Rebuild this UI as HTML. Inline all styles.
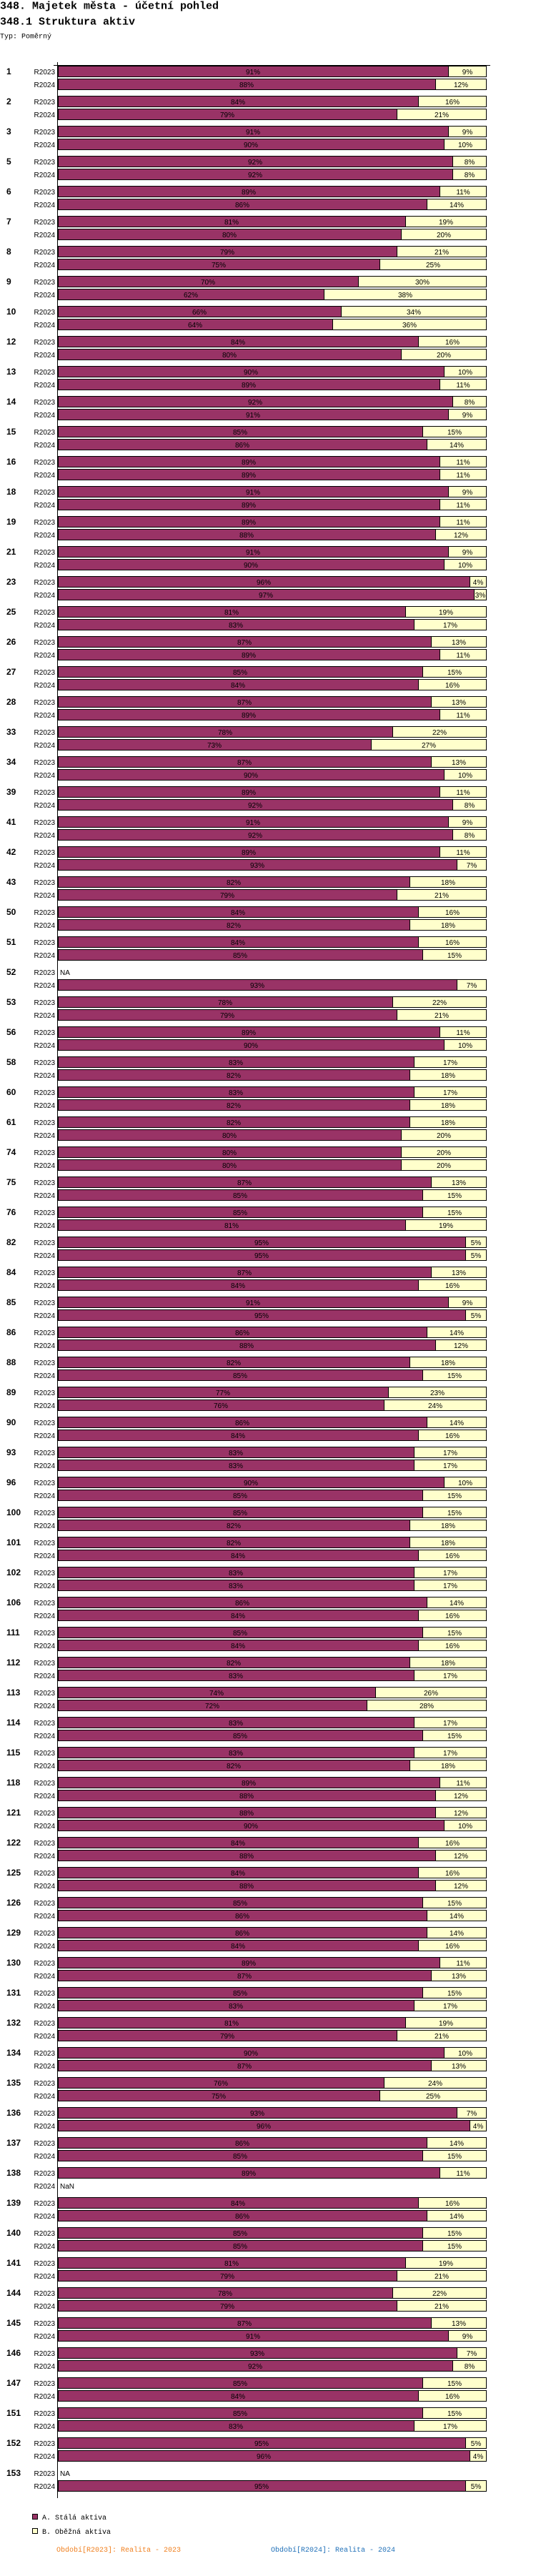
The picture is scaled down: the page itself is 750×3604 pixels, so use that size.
<!DOCTYPE html>
<html><head><meta charset="utf-8"><style>
html,body{margin:0;padding:0;background:#fff;}
svg{display:block;}
.t1{font:bold 15px "Liberation Mono",monospace;fill:#000;}
.t3{font:10px "Liberation Mono",monospace;fill:#000;}
.g{font:bold 12px "Liberation Sans",sans-serif;fill:#000;}
.r{font:10px "Liberation Sans",sans-serif;fill:#000;text-anchor:end;}
.v{font:10px "Liberation Sans",sans-serif;fill:#000;text-anchor:middle;}
.na{font:10px "Liberation Sans",sans-serif;fill:#000;}
.a{fill:#993366;stroke:#000;stroke-width:1;}
.b{fill:#FFFFCC;stroke:#000;stroke-width:1;}
.lg{font:10px "Liberation Mono",monospace;fill:#000;}
.f1{font:10px "Liberation Mono",monospace;fill:#F08020;}
.f2{font:10px "Liberation Mono",monospace;fill:#2070B8;}
</style></head><body>
<svg width="750" height="3604" viewBox="0 0 750 3604" xmlns="http://www.w3.org/2000/svg">
<rect x="0" y="0" width="750" height="3604" fill="#fff"/>
<text class="t1" x="0" y="12.5">348. Majetek města - účetní pohled</text>
<text class="t1" x="0" y="34.5">348.1 Struktura aktiv</text>
<text class="t3" x="0" y="53.5">Typ: Poměrný</text>

<g transform="translate(0,92)"><text class="g" x="9" y="12">1</text><text class="r" x="77" y="12">R2023</text><rect class="a" x="81.5" y=".5" width="546" height="15"/><rect class="b" x="627.5" y=".5" width="53" height="15"/><text class="v" x="354" y="12">91%</text><text class="v" x="654" y="12">9%</text><g transform="translate(0,18)"><text class="r" x="77" y="12">R2024</text><rect class="a" x="81.5" y=".5" width="528" height="15"/><rect class="b" x="609.5" y=".5" width="71" height="15"/><text class="v" x="345" y="12">88%</text><text class="v" x="645" y="12">12%</text></g></g>

<g transform="translate(0,134)"><text class="g" x="9" y="12">2</text><text class="r" x="77" y="12">R2023</text><rect class="a" x="81.5" y=".5" width="504" height="15"/><rect class="b" x="585.5" y=".5" width="95" height="15"/><text class="v" x="333" y="12">84%</text><text class="v" x="633" y="12">16%</text><g transform="translate(0,18)"><text class="r" x="77" y="12">R2024</text><rect class="a" x="81.5" y=".5" width="474" height="15"/><rect class="b" x="555.5" y=".5" width="125" height="15"/><text class="v" x="318" y="12">79%</text><text class="v" x="618" y="12">21%</text></g></g>

<g transform="translate(0,176)"><text class="g" x="9" y="12">3</text><text class="r" x="77" y="12">R2023</text><rect class="a" x="81.5" y=".5" width="546" height="15"/><rect class="b" x="627.5" y=".5" width="53" height="15"/><text class="v" x="354" y="12">91%</text><text class="v" x="654" y="12">9%</text><g transform="translate(0,18)"><text class="r" x="77" y="12">R2024</text><rect class="a" x="81.5" y=".5" width="540" height="15"/><rect class="b" x="621.5" y=".5" width="59" height="15"/><text class="v" x="351" y="12">90%</text><text class="v" x="651" y="12">10%</text></g></g>

<g transform="translate(0,218)"><text class="g" x="9" y="12">5</text><text class="r" x="77" y="12">R2023</text><rect class="a" x="81.5" y=".5" width="552" height="15"/><rect class="b" x="633.5" y=".5" width="47" height="15"/><text class="v" x="357" y="12">92%</text><text class="v" x="657" y="12">8%</text><g transform="translate(0,18)"><text class="r" x="77" y="12">R2024</text><rect class="a" x="81.5" y=".5" width="552" height="15"/><rect class="b" x="633.5" y=".5" width="47" height="15"/><text class="v" x="357" y="12">92%</text><text class="v" x="657" y="12">8%</text></g></g>

<g transform="translate(0,260)"><text class="g" x="9" y="12">6</text><text class="r" x="77" y="12">R2023</text><rect class="a" x="81.5" y=".5" width="534" height="15"/><rect class="b" x="615.5" y=".5" width="65" height="15"/><text class="v" x="348" y="12">89%</text><text class="v" x="648" y="12">11%</text><g transform="translate(0,18)"><text class="r" x="77" y="12">R2024</text><rect class="a" x="81.5" y=".5" width="516" height="15"/><rect class="b" x="597.5" y=".5" width="83" height="15"/><text class="v" x="339" y="12">86%</text><text class="v" x="639" y="12">14%</text></g></g>

<g transform="translate(0,302)"><text class="g" x="9" y="12">7</text><text class="r" x="77" y="12">R2023</text><rect class="a" x="81.5" y=".5" width="486" height="15"/><rect class="b" x="567.5" y=".5" width="113" height="15"/><text class="v" x="324" y="12">81%</text><text class="v" x="624" y="12">19%</text><g transform="translate(0,18)"><text class="r" x="77" y="12">R2024</text><rect class="a" x="81.5" y=".5" width="480" height="15"/><rect class="b" x="561.5" y=".5" width="119" height="15"/><text class="v" x="321" y="12">80%</text><text class="v" x="621" y="12">20%</text></g></g>

<g transform="translate(0,344)"><text class="g" x="9" y="12">8</text><text class="r" x="77" y="12">R2023</text><rect class="a" x="81.5" y=".5" width="474" height="15"/><rect class="b" x="555.5" y=".5" width="125" height="15"/><text class="v" x="318" y="12">79%</text><text class="v" x="618" y="12">21%</text><g transform="translate(0,18)"><text class="r" x="77" y="12">R2024</text><rect class="a" x="81.5" y=".5" width="450" height="15"/><rect class="b" x="531.5" y=".5" width="149" height="15"/><text class="v" x="306" y="12">75%</text><text class="v" x="606" y="12">25%</text></g></g>

<g transform="translate(0,386)"><text class="g" x="9" y="12">9</text><text class="r" x="77" y="12">R2023</text><rect class="a" x="81.5" y=".5" width="420" height="15"/><rect class="b" x="501.5" y=".5" width="179" height="15"/><text class="v" x="291" y="12">70%</text><text class="v" x="591" y="12">30%</text><g transform="translate(0,18)"><text class="r" x="77" y="12">R2024</text><rect class="a" x="81.5" y=".5" width="372" height="15"/><rect class="b" x="453.5" y=".5" width="227" height="15"/><text class="v" x="267" y="12">62%</text><text class="v" x="567" y="12">38%</text></g></g>

<g transform="translate(0,428)"><text class="g" x="9" y="12">10</text><text class="r" x="77" y="12">R2023</text><rect class="a" x="81.5" y=".5" width="396" height="15"/><rect class="b" x="477.5" y=".5" width="203" height="15"/><text class="v" x="279" y="12">66%</text><text class="v" x="579" y="12">34%</text><g transform="translate(0,18)"><text class="r" x="77" y="12">R2024</text><rect class="a" x="81.5" y=".5" width="384" height="15"/><rect class="b" x="465.5" y=".5" width="215" height="15"/><text class="v" x="273" y="12">64%</text><text class="v" x="573" y="12">36%</text></g></g>

<g transform="translate(0,470)"><text class="g" x="9" y="12">12</text><text class="r" x="77" y="12">R2023</text><rect class="a" x="81.5" y=".5" width="504" height="15"/><rect class="b" x="585.5" y=".5" width="95" height="15"/><text class="v" x="333" y="12">84%</text><text class="v" x="633" y="12">16%</text><g transform="translate(0,18)"><text class="r" x="77" y="12">R2024</text><rect class="a" x="81.5" y=".5" width="480" height="15"/><rect class="b" x="561.5" y=".5" width="119" height="15"/><text class="v" x="321" y="12">80%</text><text class="v" x="621" y="12">20%</text></g></g>

<g transform="translate(0,512)"><text class="g" x="9" y="12">13</text><text class="r" x="77" y="12">R2023</text><rect class="a" x="81.5" y=".5" width="540" height="15"/><rect class="b" x="621.5" y=".5" width="59" height="15"/><text class="v" x="351" y="12">90%</text><text class="v" x="651" y="12">10%</text><g transform="translate(0,18)"><text class="r" x="77" y="12">R2024</text><rect class="a" x="81.5" y=".5" width="534" height="15"/><rect class="b" x="615.5" y=".5" width="65" height="15"/><text class="v" x="348" y="12">89%</text><text class="v" x="648" y="12">11%</text></g></g>

<g transform="translate(0,554)"><text class="g" x="9" y="12">14</text><text class="r" x="77" y="12">R2023</text><rect class="a" x="81.5" y=".5" width="552" height="15"/><rect class="b" x="633.5" y=".5" width="47" height="15"/><text class="v" x="357" y="12">92%</text><text class="v" x="657" y="12">8%</text><g transform="translate(0,18)"><text class="r" x="77" y="12">R2024</text><rect class="a" x="81.5" y=".5" width="546" height="15"/><rect class="b" x="627.5" y=".5" width="53" height="15"/><text class="v" x="354" y="12">91%</text><text class="v" x="654" y="12">9%</text></g></g>

<g transform="translate(0,596)"><text class="g" x="9" y="12">15</text><text class="r" x="77" y="12">R2023</text><rect class="a" x="81.5" y=".5" width="510" height="15"/><rect class="b" x="591.5" y=".5" width="89" height="15"/><text class="v" x="336" y="12">85%</text><text class="v" x="636" y="12">15%</text><g transform="translate(0,18)"><text class="r" x="77" y="12">R2024</text><rect class="a" x="81.5" y=".5" width="516" height="15"/><rect class="b" x="597.5" y=".5" width="83" height="15"/><text class="v" x="339" y="12">86%</text><text class="v" x="639" y="12">14%</text></g></g>

<g transform="translate(0,638)"><text class="g" x="9" y="12">16</text><text class="r" x="77" y="12">R2023</text><rect class="a" x="81.5" y=".5" width="534" height="15"/><rect class="b" x="615.5" y=".5" width="65" height="15"/><text class="v" x="348" y="12">89%</text><text class="v" x="648" y="12">11%</text><g transform="translate(0,18)"><text class="r" x="77" y="12">R2024</text><rect class="a" x="81.5" y=".5" width="534" height="15"/><rect class="b" x="615.5" y=".5" width="65" height="15"/><text class="v" x="348" y="12">89%</text><text class="v" x="648" y="12">11%</text></g></g>

<g transform="translate(0,680)"><text class="g" x="9" y="12">18</text><text class="r" x="77" y="12">R2023</text><rect class="a" x="81.5" y=".5" width="546" height="15"/><rect class="b" x="627.5" y=".5" width="53" height="15"/><text class="v" x="354" y="12">91%</text><text class="v" x="654" y="12">9%</text><g transform="translate(0,18)"><text class="r" x="77" y="12">R2024</text><rect class="a" x="81.5" y=".5" width="534" height="15"/><rect class="b" x="615.5" y=".5" width="65" height="15"/><text class="v" x="348" y="12">89%</text><text class="v" x="648" y="12">11%</text></g></g>

<g transform="translate(0,722)"><text class="g" x="9" y="12">19</text><text class="r" x="77" y="12">R2023</text><rect class="a" x="81.5" y=".5" width="534" height="15"/><rect class="b" x="615.5" y=".5" width="65" height="15"/><text class="v" x="348" y="12">89%</text><text class="v" x="648" y="12">11%</text><g transform="translate(0,18)"><text class="r" x="77" y="12">R2024</text><rect class="a" x="81.5" y=".5" width="528" height="15"/><rect class="b" x="609.5" y=".5" width="71" height="15"/><text class="v" x="345" y="12">88%</text><text class="v" x="645" y="12">12%</text></g></g>

<g transform="translate(0,764)"><text class="g" x="9" y="12">21</text><text class="r" x="77" y="12">R2023</text><rect class="a" x="81.5" y=".5" width="546" height="15"/><rect class="b" x="627.5" y=".5" width="53" height="15"/><text class="v" x="354" y="12">91%</text><text class="v" x="654" y="12">9%</text><g transform="translate(0,18)"><text class="r" x="77" y="12">R2024</text><rect class="a" x="81.5" y=".5" width="540" height="15"/><rect class="b" x="621.5" y=".5" width="59" height="15"/><text class="v" x="351" y="12">90%</text><text class="v" x="651" y="12">10%</text></g></g>

<g transform="translate(0,806)"><text class="g" x="9" y="12">23</text><text class="r" x="77" y="12">R2023</text><rect class="a" x="81.5" y=".5" width="576" height="15"/><rect class="b" x="657.5" y=".5" width="23" height="15"/><text class="v" x="369" y="12">96%</text><text class="v" x="669" y="12">4%</text><g transform="translate(0,18)"><text class="r" x="77" y="12">R2024</text><rect class="a" x="81.5" y=".5" width="582" height="15"/><rect class="b" x="663.5" y=".5" width="17" height="15"/><text class="v" x="372" y="12">97%</text><text class="v" x="672" y="12">3%</text></g></g>

<g transform="translate(0,848)"><text class="g" x="9" y="12">25</text><text class="r" x="77" y="12">R2023</text><rect class="a" x="81.5" y=".5" width="486" height="15"/><rect class="b" x="567.5" y=".5" width="113" height="15"/><text class="v" x="324" y="12">81%</text><text class="v" x="624" y="12">19%</text><g transform="translate(0,18)"><text class="r" x="77" y="12">R2024</text><rect class="a" x="81.5" y=".5" width="498" height="15"/><rect class="b" x="579.5" y=".5" width="101" height="15"/><text class="v" x="330" y="12">83%</text><text class="v" x="630" y="12">17%</text></g></g>

<g transform="translate(0,890)"><text class="g" x="9" y="12">26</text><text class="r" x="77" y="12">R2023</text><rect class="a" x="81.5" y=".5" width="522" height="15"/><rect class="b" x="603.5" y=".5" width="77" height="15"/><text class="v" x="342" y="12">87%</text><text class="v" x="642" y="12">13%</text><g transform="translate(0,18)"><text class="r" x="77" y="12">R2024</text><rect class="a" x="81.5" y=".5" width="534" height="15"/><rect class="b" x="615.5" y=".5" width="65" height="15"/><text class="v" x="348" y="12">89%</text><text class="v" x="648" y="12">11%</text></g></g>

<g transform="translate(0,932)"><text class="g" x="9" y="12">27</text><text class="r" x="77" y="12">R2023</text><rect class="a" x="81.5" y=".5" width="510" height="15"/><rect class="b" x="591.5" y=".5" width="89" height="15"/><text class="v" x="336" y="12">85%</text><text class="v" x="636" y="12">15%</text><g transform="translate(0,18)"><text class="r" x="77" y="12">R2024</text><rect class="a" x="81.5" y=".5" width="504" height="15"/><rect class="b" x="585.5" y=".5" width="95" height="15"/><text class="v" x="333" y="12">84%</text><text class="v" x="633" y="12">16%</text></g></g>

<g transform="translate(0,974)"><text class="g" x="9" y="12">28</text><text class="r" x="77" y="12">R2023</text><rect class="a" x="81.5" y=".5" width="522" height="15"/><rect class="b" x="603.5" y=".5" width="77" height="15"/><text class="v" x="342" y="12">87%</text><text class="v" x="642" y="12">13%</text><g transform="translate(0,18)"><text class="r" x="77" y="12">R2024</text><rect class="a" x="81.5" y=".5" width="534" height="15"/><rect class="b" x="615.5" y=".5" width="65" height="15"/><text class="v" x="348" y="12">89%</text><text class="v" x="648" y="12">11%</text></g></g>

<g transform="translate(0,1016)"><text class="g" x="9" y="12">33</text><text class="r" x="77" y="12">R2023</text><rect class="a" x="81.5" y=".5" width="468" height="15"/><rect class="b" x="549.5" y=".5" width="131" height="15"/><text class="v" x="315" y="12">78%</text><text class="v" x="615" y="12">22%</text><g transform="translate(0,18)"><text class="r" x="77" y="12">R2024</text><rect class="a" x="81.5" y=".5" width="438" height="15"/><rect class="b" x="519.5" y=".5" width="161" height="15"/><text class="v" x="300" y="12">73%</text><text class="v" x="600" y="12">27%</text></g></g>

<g transform="translate(0,1058)"><text class="g" x="9" y="12">34</text><text class="r" x="77" y="12">R2023</text><rect class="a" x="81.5" y=".5" width="522" height="15"/><rect class="b" x="603.5" y=".5" width="77" height="15"/><text class="v" x="342" y="12">87%</text><text class="v" x="642" y="12">13%</text><g transform="translate(0,18)"><text class="r" x="77" y="12">R2024</text><rect class="a" x="81.5" y=".5" width="540" height="15"/><rect class="b" x="621.5" y=".5" width="59" height="15"/><text class="v" x="351" y="12">90%</text><text class="v" x="651" y="12">10%</text></g></g>

<g transform="translate(0,1100)"><text class="g" x="9" y="12">39</text><text class="r" x="77" y="12">R2023</text><rect class="a" x="81.5" y=".5" width="534" height="15"/><rect class="b" x="615.5" y=".5" width="65" height="15"/><text class="v" x="348" y="12">89%</text><text class="v" x="648" y="12">11%</text><g transform="translate(0,18)"><text class="r" x="77" y="12">R2024</text><rect class="a" x="81.5" y=".5" width="552" height="15"/><rect class="b" x="633.5" y=".5" width="47" height="15"/><text class="v" x="357" y="12">92%</text><text class="v" x="657" y="12">8%</text></g></g>

<g transform="translate(0,1142)"><text class="g" x="9" y="12">41</text><text class="r" x="77" y="12">R2023</text><rect class="a" x="81.5" y=".5" width="546" height="15"/><rect class="b" x="627.5" y=".5" width="53" height="15"/><text class="v" x="354" y="12">91%</text><text class="v" x="654" y="12">9%</text><g transform="translate(0,18)"><text class="r" x="77" y="12">R2024</text><rect class="a" x="81.5" y=".5" width="552" height="15"/><rect class="b" x="633.5" y=".5" width="47" height="15"/><text class="v" x="357" y="12">92%</text><text class="v" x="657" y="12">8%</text></g></g>

<g transform="translate(0,1184)"><text class="g" x="9" y="12">42</text><text class="r" x="77" y="12">R2023</text><rect class="a" x="81.5" y=".5" width="534" height="15"/><rect class="b" x="615.5" y=".5" width="65" height="15"/><text class="v" x="348" y="12">89%</text><text class="v" x="648" y="12">11%</text><g transform="translate(0,18)"><text class="r" x="77" y="12">R2024</text><rect class="a" x="81.5" y=".5" width="558" height="15"/><rect class="b" x="639.5" y=".5" width="41" height="15"/><text class="v" x="360" y="12">93%</text><text class="v" x="660" y="12">7%</text></g></g>

<g transform="translate(0,1226)"><text class="g" x="9" y="12">43</text><text class="r" x="77" y="12">R2023</text><rect class="a" x="81.5" y=".5" width="492" height="15"/><rect class="b" x="573.5" y=".5" width="107" height="15"/><text class="v" x="327" y="12">82%</text><text class="v" x="627" y="12">18%</text><g transform="translate(0,18)"><text class="r" x="77" y="12">R2024</text><rect class="a" x="81.5" y=".5" width="474" height="15"/><rect class="b" x="555.5" y=".5" width="125" height="15"/><text class="v" x="318" y="12">79%</text><text class="v" x="618" y="12">21%</text></g></g>

<g transform="translate(0,1268)"><text class="g" x="9" y="12">50</text><text class="r" x="77" y="12">R2023</text><rect class="a" x="81.5" y=".5" width="504" height="15"/><rect class="b" x="585.5" y=".5" width="95" height="15"/><text class="v" x="333" y="12">84%</text><text class="v" x="633" y="12">16%</text><g transform="translate(0,18)"><text class="r" x="77" y="12">R2024</text><rect class="a" x="81.5" y=".5" width="492" height="15"/><rect class="b" x="573.5" y=".5" width="107" height="15"/><text class="v" x="327" y="12">82%</text><text class="v" x="627" y="12">18%</text></g></g>

<g transform="translate(0,1310)"><text class="g" x="9" y="12">51</text><text class="r" x="77" y="12">R2023</text><rect class="a" x="81.5" y=".5" width="504" height="15"/><rect class="b" x="585.5" y=".5" width="95" height="15"/><text class="v" x="333" y="12">84%</text><text class="v" x="633" y="12">16%</text><g transform="translate(0,18)"><text class="r" x="77" y="12">R2024</text><rect class="a" x="81.5" y=".5" width="510" height="15"/><rect class="b" x="591.5" y=".5" width="89" height="15"/><text class="v" x="336" y="12">85%</text><text class="v" x="636" y="12">15%</text></g></g>

<g transform="translate(0,1352)"><text class="g" x="9" y="12">52</text><text class="r" x="77" y="12">R2023</text><text class="na" x="84" y="12">NA</text><g transform="translate(0,18)"><text class="r" x="77" y="12">R2024</text><rect class="a" x="81.5" y=".5" width="558" height="15"/><rect class="b" x="639.5" y=".5" width="41" height="15"/><text class="v" x="360" y="12">93%</text><text class="v" x="660" y="12">7%</text></g></g>

<g transform="translate(0,1394)"><text class="g" x="9" y="12">53</text><text class="r" x="77" y="12">R2023</text><rect class="a" x="81.5" y=".5" width="468" height="15"/><rect class="b" x="549.5" y=".5" width="131" height="15"/><text class="v" x="315" y="12">78%</text><text class="v" x="615" y="12">22%</text><g transform="translate(0,18)"><text class="r" x="77" y="12">R2024</text><rect class="a" x="81.5" y=".5" width="474" height="15"/><rect class="b" x="555.5" y=".5" width="125" height="15"/><text class="v" x="318" y="12">79%</text><text class="v" x="618" y="12">21%</text></g></g>

<g transform="translate(0,1436)"><text class="g" x="9" y="12">56</text><text class="r" x="77" y="12">R2023</text><rect class="a" x="81.5" y=".5" width="534" height="15"/><rect class="b" x="615.5" y=".5" width="65" height="15"/><text class="v" x="348" y="12">89%</text><text class="v" x="648" y="12">11%</text><g transform="translate(0,18)"><text class="r" x="77" y="12">R2024</text><rect class="a" x="81.5" y=".5" width="540" height="15"/><rect class="b" x="621.5" y=".5" width="59" height="15"/><text class="v" x="351" y="12">90%</text><text class="v" x="651" y="12">10%</text></g></g>

<g transform="translate(0,1478)"><text class="g" x="9" y="12">58</text><text class="r" x="77" y="12">R2023</text><rect class="a" x="81.5" y=".5" width="498" height="15"/><rect class="b" x="579.5" y=".5" width="101" height="15"/><text class="v" x="330" y="12">83%</text><text class="v" x="630" y="12">17%</text><g transform="translate(0,18)"><text class="r" x="77" y="12">R2024</text><rect class="a" x="81.5" y=".5" width="492" height="15"/><rect class="b" x="573.5" y=".5" width="107" height="15"/><text class="v" x="327" y="12">82%</text><text class="v" x="627" y="12">18%</text></g></g>

<g transform="translate(0,1520)"><text class="g" x="9" y="12">60</text><text class="r" x="77" y="12">R2023</text><rect class="a" x="81.5" y=".5" width="498" height="15"/><rect class="b" x="579.5" y=".5" width="101" height="15"/><text class="v" x="330" y="12">83%</text><text class="v" x="630" y="12">17%</text><g transform="translate(0,18)"><text class="r" x="77" y="12">R2024</text><rect class="a" x="81.5" y=".5" width="492" height="15"/><rect class="b" x="573.5" y=".5" width="107" height="15"/><text class="v" x="327" y="12">82%</text><text class="v" x="627" y="12">18%</text></g></g>

<g transform="translate(0,1562)"><text class="g" x="9" y="12">61</text><text class="r" x="77" y="12">R2023</text><rect class="a" x="81.5" y=".5" width="492" height="15"/><rect class="b" x="573.5" y=".5" width="107" height="15"/><text class="v" x="327" y="12">82%</text><text class="v" x="627" y="12">18%</text><g transform="translate(0,18)"><text class="r" x="77" y="12">R2024</text><rect class="a" x="81.5" y=".5" width="480" height="15"/><rect class="b" x="561.5" y=".5" width="119" height="15"/><text class="v" x="321" y="12">80%</text><text class="v" x="621" y="12">20%</text></g></g>

<g transform="translate(0,1604)"><text class="g" x="9" y="12">74</text><text class="r" x="77" y="12">R2023</text><rect class="a" x="81.5" y=".5" width="480" height="15"/><rect class="b" x="561.5" y=".5" width="119" height="15"/><text class="v" x="321" y="12">80%</text><text class="v" x="621" y="12">20%</text><g transform="translate(0,18)"><text class="r" x="77" y="12">R2024</text><rect class="a" x="81.5" y=".5" width="480" height="15"/><rect class="b" x="561.5" y=".5" width="119" height="15"/><text class="v" x="321" y="12">80%</text><text class="v" x="621" y="12">20%</text></g></g>

<g transform="translate(0,1646)"><text class="g" x="9" y="12">75</text><text class="r" x="77" y="12">R2023</text><rect class="a" x="81.5" y=".5" width="522" height="15"/><rect class="b" x="603.5" y=".5" width="77" height="15"/><text class="v" x="342" y="12">87%</text><text class="v" x="642" y="12">13%</text><g transform="translate(0,18)"><text class="r" x="77" y="12">R2024</text><rect class="a" x="81.5" y=".5" width="510" height="15"/><rect class="b" x="591.5" y=".5" width="89" height="15"/><text class="v" x="336" y="12">85%</text><text class="v" x="636" y="12">15%</text></g></g>

<g transform="translate(0,1688)"><text class="g" x="9" y="12">76</text><text class="r" x="77" y="12">R2023</text><rect class="a" x="81.5" y=".5" width="510" height="15"/><rect class="b" x="591.5" y=".5" width="89" height="15"/><text class="v" x="336" y="12">85%</text><text class="v" x="636" y="12">15%</text><g transform="translate(0,18)"><text class="r" x="77" y="12">R2024</text><rect class="a" x="81.5" y=".5" width="486" height="15"/><rect class="b" x="567.5" y=".5" width="113" height="15"/><text class="v" x="324" y="12">81%</text><text class="v" x="624" y="12">19%</text></g></g>

<g transform="translate(0,1730)"><text class="g" x="9" y="12">82</text><text class="r" x="77" y="12">R2023</text><rect class="a" x="81.5" y=".5" width="570" height="15"/><rect class="b" x="651.5" y=".5" width="29" height="15"/><text class="v" x="366" y="12">95%</text><text class="v" x="666" y="12">5%</text><g transform="translate(0,18)"><text class="r" x="77" y="12">R2024</text><rect class="a" x="81.5" y=".5" width="570" height="15"/><rect class="b" x="651.5" y=".5" width="29" height="15"/><text class="v" x="366" y="12">95%</text><text class="v" x="666" y="12">5%</text></g></g>

<g transform="translate(0,1772)"><text class="g" x="9" y="12">84</text><text class="r" x="77" y="12">R2023</text><rect class="a" x="81.5" y=".5" width="522" height="15"/><rect class="b" x="603.5" y=".5" width="77" height="15"/><text class="v" x="342" y="12">87%</text><text class="v" x="642" y="12">13%</text><g transform="translate(0,18)"><text class="r" x="77" y="12">R2024</text><rect class="a" x="81.5" y=".5" width="504" height="15"/><rect class="b" x="585.5" y=".5" width="95" height="15"/><text class="v" x="333" y="12">84%</text><text class="v" x="633" y="12">16%</text></g></g>

<g transform="translate(0,1814)"><text class="g" x="9" y="12">85</text><text class="r" x="77" y="12">R2023</text><rect class="a" x="81.5" y=".5" width="546" height="15"/><rect class="b" x="627.5" y=".5" width="53" height="15"/><text class="v" x="354" y="12">91%</text><text class="v" x="654" y="12">9%</text><g transform="translate(0,18)"><text class="r" x="77" y="12">R2024</text><rect class="a" x="81.5" y=".5" width="570" height="15"/><rect class="b" x="651.5" y=".5" width="29" height="15"/><text class="v" x="366" y="12">95%</text><text class="v" x="666" y="12">5%</text></g></g>

<g transform="translate(0,1856)"><text class="g" x="9" y="12">86</text><text class="r" x="77" y="12">R2023</text><rect class="a" x="81.5" y=".5" width="516" height="15"/><rect class="b" x="597.5" y=".5" width="83" height="15"/><text class="v" x="339" y="12">86%</text><text class="v" x="639" y="12">14%</text><g transform="translate(0,18)"><text class="r" x="77" y="12">R2024</text><rect class="a" x="81.5" y=".5" width="528" height="15"/><rect class="b" x="609.5" y=".5" width="71" height="15"/><text class="v" x="345" y="12">88%</text><text class="v" x="645" y="12">12%</text></g></g>

<g transform="translate(0,1898)"><text class="g" x="9" y="12">88</text><text class="r" x="77" y="12">R2023</text><rect class="a" x="81.5" y=".5" width="492" height="15"/><rect class="b" x="573.5" y=".5" width="107" height="15"/><text class="v" x="327" y="12">82%</text><text class="v" x="627" y="12">18%</text><g transform="translate(0,18)"><text class="r" x="77" y="12">R2024</text><rect class="a" x="81.5" y=".5" width="510" height="15"/><rect class="b" x="591.5" y=".5" width="89" height="15"/><text class="v" x="336" y="12">85%</text><text class="v" x="636" y="12">15%</text></g></g>

<g transform="translate(0,1940)"><text class="g" x="9" y="12">89</text><text class="r" x="77" y="12">R2023</text><rect class="a" x="81.5" y=".5" width="462" height="15"/><rect class="b" x="543.5" y=".5" width="137" height="15"/><text class="v" x="312" y="12">77%</text><text class="v" x="612" y="12">23%</text><g transform="translate(0,18)"><text class="r" x="77" y="12">R2024</text><rect class="a" x="81.5" y=".5" width="456" height="15"/><rect class="b" x="537.5" y=".5" width="143" height="15"/><text class="v" x="309" y="12">76%</text><text class="v" x="609" y="12">24%</text></g></g>

<g transform="translate(0,1982)"><text class="g" x="9" y="12">90</text><text class="r" x="77" y="12">R2023</text><rect class="a" x="81.5" y=".5" width="516" height="15"/><rect class="b" x="597.5" y=".5" width="83" height="15"/><text class="v" x="339" y="12">86%</text><text class="v" x="639" y="12">14%</text><g transform="translate(0,18)"><text class="r" x="77" y="12">R2024</text><rect class="a" x="81.5" y=".5" width="504" height="15"/><rect class="b" x="585.5" y=".5" width="95" height="15"/><text class="v" x="333" y="12">84%</text><text class="v" x="633" y="12">16%</text></g></g>

<g transform="translate(0,2024)"><text class="g" x="9" y="12">93</text><text class="r" x="77" y="12">R2023</text><rect class="a" x="81.5" y=".5" width="498" height="15"/><rect class="b" x="579.5" y=".5" width="101" height="15"/><text class="v" x="330" y="12">83%</text><text class="v" x="630" y="12">17%</text><g transform="translate(0,18)"><text class="r" x="77" y="12">R2024</text><rect class="a" x="81.5" y=".5" width="498" height="15"/><rect class="b" x="579.5" y=".5" width="101" height="15"/><text class="v" x="330" y="12">83%</text><text class="v" x="630" y="12">17%</text></g></g>

<g transform="translate(0,2066)"><text class="g" x="9" y="12">96</text><text class="r" x="77" y="12">R2023</text><rect class="a" x="81.5" y=".5" width="540" height="15"/><rect class="b" x="621.5" y=".5" width="59" height="15"/><text class="v" x="351" y="12">90%</text><text class="v" x="651" y="12">10%</text><g transform="translate(0,18)"><text class="r" x="77" y="12">R2024</text><rect class="a" x="81.5" y=".5" width="510" height="15"/><rect class="b" x="591.5" y=".5" width="89" height="15"/><text class="v" x="336" y="12">85%</text><text class="v" x="636" y="12">15%</text></g></g>

<g transform="translate(0,2108)"><text class="g" x="9" y="12">100</text><text class="r" x="77" y="12">R2023</text><rect class="a" x="81.5" y=".5" width="510" height="15"/><rect class="b" x="591.5" y=".5" width="89" height="15"/><text class="v" x="336" y="12">85%</text><text class="v" x="636" y="12">15%</text><g transform="translate(0,18)"><text class="r" x="77" y="12">R2024</text><rect class="a" x="81.5" y=".5" width="492" height="15"/><rect class="b" x="573.5" y=".5" width="107" height="15"/><text class="v" x="327" y="12">82%</text><text class="v" x="627" y="12">18%</text></g></g>

<g transform="translate(0,2150)"><text class="g" x="9" y="12">101</text><text class="r" x="77" y="12">R2023</text><rect class="a" x="81.5" y=".5" width="492" height="15"/><rect class="b" x="573.5" y=".5" width="107" height="15"/><text class="v" x="327" y="12">82%</text><text class="v" x="627" y="12">18%</text><g transform="translate(0,18)"><text class="r" x="77" y="12">R2024</text><rect class="a" x="81.5" y=".5" width="504" height="15"/><rect class="b" x="585.5" y=".5" width="95" height="15"/><text class="v" x="333" y="12">84%</text><text class="v" x="633" y="12">16%</text></g></g>

<g transform="translate(0,2192)"><text class="g" x="9" y="12">102</text><text class="r" x="77" y="12">R2023</text><rect class="a" x="81.5" y=".5" width="498" height="15"/><rect class="b" x="579.5" y=".5" width="101" height="15"/><text class="v" x="330" y="12">83%</text><text class="v" x="630" y="12">17%</text><g transform="translate(0,18)"><text class="r" x="77" y="12">R2024</text><rect class="a" x="81.5" y=".5" width="498" height="15"/><rect class="b" x="579.5" y=".5" width="101" height="15"/><text class="v" x="330" y="12">83%</text><text class="v" x="630" y="12">17%</text></g></g>

<g transform="translate(0,2234)"><text class="g" x="9" y="12">106</text><text class="r" x="77" y="12">R2023</text><rect class="a" x="81.5" y=".5" width="516" height="15"/><rect class="b" x="597.5" y=".5" width="83" height="15"/><text class="v" x="339" y="12">86%</text><text class="v" x="639" y="12">14%</text><g transform="translate(0,18)"><text class="r" x="77" y="12">R2024</text><rect class="a" x="81.5" y=".5" width="504" height="15"/><rect class="b" x="585.5" y=".5" width="95" height="15"/><text class="v" x="333" y="12">84%</text><text class="v" x="633" y="12">16%</text></g></g>

<g transform="translate(0,2276)"><text class="g" x="9" y="12">111</text><text class="r" x="77" y="12">R2023</text><rect class="a" x="81.5" y=".5" width="510" height="15"/><rect class="b" x="591.5" y=".5" width="89" height="15"/><text class="v" x="336" y="12">85%</text><text class="v" x="636" y="12">15%</text><g transform="translate(0,18)"><text class="r" x="77" y="12">R2024</text><rect class="a" x="81.5" y=".5" width="504" height="15"/><rect class="b" x="585.5" y=".5" width="95" height="15"/><text class="v" x="333" y="12">84%</text><text class="v" x="633" y="12">16%</text></g></g>

<g transform="translate(0,2318)"><text class="g" x="9" y="12">112</text><text class="r" x="77" y="12">R2023</text><rect class="a" x="81.5" y=".5" width="492" height="15"/><rect class="b" x="573.5" y=".5" width="107" height="15"/><text class="v" x="327" y="12">82%</text><text class="v" x="627" y="12">18%</text><g transform="translate(0,18)"><text class="r" x="77" y="12">R2024</text><rect class="a" x="81.5" y=".5" width="498" height="15"/><rect class="b" x="579.5" y=".5" width="101" height="15"/><text class="v" x="330" y="12">83%</text><text class="v" x="630" y="12">17%</text></g></g>

<g transform="translate(0,2360)"><text class="g" x="9" y="12">113</text><text class="r" x="77" y="12">R2023</text><rect class="a" x="81.5" y=".5" width="444" height="15"/><rect class="b" x="525.5" y=".5" width="155" height="15"/><text class="v" x="303" y="12">74%</text><text class="v" x="603" y="12">26%</text><g transform="translate(0,18)"><text class="r" x="77" y="12">R2024</text><rect class="a" x="81.5" y=".5" width="432" height="15"/><rect class="b" x="513.5" y=".5" width="167" height="15"/><text class="v" x="297" y="12">72%</text><text class="v" x="597" y="12">28%</text></g></g>

<g transform="translate(0,2402)"><text class="g" x="9" y="12">114</text><text class="r" x="77" y="12">R2023</text><rect class="a" x="81.5" y=".5" width="498" height="15"/><rect class="b" x="579.5" y=".5" width="101" height="15"/><text class="v" x="330" y="12">83%</text><text class="v" x="630" y="12">17%</text><g transform="translate(0,18)"><text class="r" x="77" y="12">R2024</text><rect class="a" x="81.5" y=".5" width="510" height="15"/><rect class="b" x="591.5" y=".5" width="89" height="15"/><text class="v" x="336" y="12">85%</text><text class="v" x="636" y="12">15%</text></g></g>

<g transform="translate(0,2444)"><text class="g" x="9" y="12">115</text><text class="r" x="77" y="12">R2023</text><rect class="a" x="81.5" y=".5" width="498" height="15"/><rect class="b" x="579.5" y=".5" width="101" height="15"/><text class="v" x="330" y="12">83%</text><text class="v" x="630" y="12">17%</text><g transform="translate(0,18)"><text class="r" x="77" y="12">R2024</text><rect class="a" x="81.5" y=".5" width="492" height="15"/><rect class="b" x="573.5" y=".5" width="107" height="15"/><text class="v" x="327" y="12">82%</text><text class="v" x="627" y="12">18%</text></g></g>

<g transform="translate(0,2486)"><text class="g" x="9" y="12">118</text><text class="r" x="77" y="12">R2023</text><rect class="a" x="81.5" y=".5" width="534" height="15"/><rect class="b" x="615.5" y=".5" width="65" height="15"/><text class="v" x="348" y="12">89%</text><text class="v" x="648" y="12">11%</text><g transform="translate(0,18)"><text class="r" x="77" y="12">R2024</text><rect class="a" x="81.5" y=".5" width="528" height="15"/><rect class="b" x="609.5" y=".5" width="71" height="15"/><text class="v" x="345" y="12">88%</text><text class="v" x="645" y="12">12%</text></g></g>

<g transform="translate(0,2528)"><text class="g" x="9" y="12">121</text><text class="r" x="77" y="12">R2023</text><rect class="a" x="81.5" y=".5" width="528" height="15"/><rect class="b" x="609.5" y=".5" width="71" height="15"/><text class="v" x="345" y="12">88%</text><text class="v" x="645" y="12">12%</text><g transform="translate(0,18)"><text class="r" x="77" y="12">R2024</text><rect class="a" x="81.5" y=".5" width="540" height="15"/><rect class="b" x="621.5" y=".5" width="59" height="15"/><text class="v" x="351" y="12">90%</text><text class="v" x="651" y="12">10%</text></g></g>

<g transform="translate(0,2570)"><text class="g" x="9" y="12">122</text><text class="r" x="77" y="12">R2023</text><rect class="a" x="81.5" y=".5" width="504" height="15"/><rect class="b" x="585.5" y=".5" width="95" height="15"/><text class="v" x="333" y="12">84%</text><text class="v" x="633" y="12">16%</text><g transform="translate(0,18)"><text class="r" x="77" y="12">R2024</text><rect class="a" x="81.5" y=".5" width="528" height="15"/><rect class="b" x="609.5" y=".5" width="71" height="15"/><text class="v" x="345" y="12">88%</text><text class="v" x="645" y="12">12%</text></g></g>

<g transform="translate(0,2612)"><text class="g" x="9" y="12">125</text><text class="r" x="77" y="12">R2023</text><rect class="a" x="81.5" y=".5" width="504" height="15"/><rect class="b" x="585.5" y=".5" width="95" height="15"/><text class="v" x="333" y="12">84%</text><text class="v" x="633" y="12">16%</text><g transform="translate(0,18)"><text class="r" x="77" y="12">R2024</text><rect class="a" x="81.5" y=".5" width="528" height="15"/><rect class="b" x="609.5" y=".5" width="71" height="15"/><text class="v" x="345" y="12">88%</text><text class="v" x="645" y="12">12%</text></g></g>

<g transform="translate(0,2654)"><text class="g" x="9" y="12">126</text><text class="r" x="77" y="12">R2023</text><rect class="a" x="81.5" y=".5" width="510" height="15"/><rect class="b" x="591.5" y=".5" width="89" height="15"/><text class="v" x="336" y="12">85%</text><text class="v" x="636" y="12">15%</text><g transform="translate(0,18)"><text class="r" x="77" y="12">R2024</text><rect class="a" x="81.5" y=".5" width="516" height="15"/><rect class="b" x="597.5" y=".5" width="83" height="15"/><text class="v" x="339" y="12">86%</text><text class="v" x="639" y="12">14%</text></g></g>

<g transform="translate(0,2696)"><text class="g" x="9" y="12">129</text><text class="r" x="77" y="12">R2023</text><rect class="a" x="81.5" y=".5" width="516" height="15"/><rect class="b" x="597.5" y=".5" width="83" height="15"/><text class="v" x="339" y="12">86%</text><text class="v" x="639" y="12">14%</text><g transform="translate(0,18)"><text class="r" x="77" y="12">R2024</text><rect class="a" x="81.5" y=".5" width="504" height="15"/><rect class="b" x="585.5" y=".5" width="95" height="15"/><text class="v" x="333" y="12">84%</text><text class="v" x="633" y="12">16%</text></g></g>

<g transform="translate(0,2738)"><text class="g" x="9" y="12">130</text><text class="r" x="77" y="12">R2023</text><rect class="a" x="81.5" y=".5" width="534" height="15"/><rect class="b" x="615.5" y=".5" width="65" height="15"/><text class="v" x="348" y="12">89%</text><text class="v" x="648" y="12">11%</text><g transform="translate(0,18)"><text class="r" x="77" y="12">R2024</text><rect class="a" x="81.5" y=".5" width="522" height="15"/><rect class="b" x="603.5" y=".5" width="77" height="15"/><text class="v" x="342" y="12">87%</text><text class="v" x="642" y="12">13%</text></g></g>

<g transform="translate(0,2780)"><text class="g" x="9" y="12">131</text><text class="r" x="77" y="12">R2023</text><rect class="a" x="81.5" y=".5" width="510" height="15"/><rect class="b" x="591.5" y=".5" width="89" height="15"/><text class="v" x="336" y="12">85%</text><text class="v" x="636" y="12">15%</text><g transform="translate(0,18)"><text class="r" x="77" y="12">R2024</text><rect class="a" x="81.5" y=".5" width="498" height="15"/><rect class="b" x="579.5" y=".5" width="101" height="15"/><text class="v" x="330" y="12">83%</text><text class="v" x="630" y="12">17%</text></g></g>

<g transform="translate(0,2822)"><text class="g" x="9" y="12">132</text><text class="r" x="77" y="12">R2023</text><rect class="a" x="81.5" y=".5" width="486" height="15"/><rect class="b" x="567.5" y=".5" width="113" height="15"/><text class="v" x="324" y="12">81%</text><text class="v" x="624" y="12">19%</text><g transform="translate(0,18)"><text class="r" x="77" y="12">R2024</text><rect class="a" x="81.5" y=".5" width="474" height="15"/><rect class="b" x="555.5" y=".5" width="125" height="15"/><text class="v" x="318" y="12">79%</text><text class="v" x="618" y="12">21%</text></g></g>

<g transform="translate(0,2864)"><text class="g" x="9" y="12">134</text><text class="r" x="77" y="12">R2023</text><rect class="a" x="81.5" y=".5" width="540" height="15"/><rect class="b" x="621.5" y=".5" width="59" height="15"/><text class="v" x="351" y="12">90%</text><text class="v" x="651" y="12">10%</text><g transform="translate(0,18)"><text class="r" x="77" y="12">R2024</text><rect class="a" x="81.5" y=".5" width="522" height="15"/><rect class="b" x="603.5" y=".5" width="77" height="15"/><text class="v" x="342" y="12">87%</text><text class="v" x="642" y="12">13%</text></g></g>

<g transform="translate(0,2906)"><text class="g" x="9" y="12">135</text><text class="r" x="77" y="12">R2023</text><rect class="a" x="81.5" y=".5" width="456" height="15"/><rect class="b" x="537.5" y=".5" width="143" height="15"/><text class="v" x="309" y="12">76%</text><text class="v" x="609" y="12">24%</text><g transform="translate(0,18)"><text class="r" x="77" y="12">R2024</text><rect class="a" x="81.5" y=".5" width="450" height="15"/><rect class="b" x="531.5" y=".5" width="149" height="15"/><text class="v" x="306" y="12">75%</text><text class="v" x="606" y="12">25%</text></g></g>

<g transform="translate(0,2948)"><text class="g" x="9" y="12">136</text><text class="r" x="77" y="12">R2023</text><rect class="a" x="81.5" y=".5" width="558" height="15"/><rect class="b" x="639.5" y=".5" width="41" height="15"/><text class="v" x="360" y="12">93%</text><text class="v" x="660" y="12">7%</text><g transform="translate(0,18)"><text class="r" x="77" y="12">R2024</text><rect class="a" x="81.5" y=".5" width="576" height="15"/><rect class="b" x="657.5" y=".5" width="23" height="15"/><text class="v" x="369" y="12">96%</text><text class="v" x="669" y="12">4%</text></g></g>

<g transform="translate(0,2990)"><text class="g" x="9" y="12">137</text><text class="r" x="77" y="12">R2023</text><rect class="a" x="81.5" y=".5" width="516" height="15"/><rect class="b" x="597.5" y=".5" width="83" height="15"/><text class="v" x="339" y="12">86%</text><text class="v" x="639" y="12">14%</text><g transform="translate(0,18)"><text class="r" x="77" y="12">R2024</text><rect class="a" x="81.5" y=".5" width="510" height="15"/><rect class="b" x="591.5" y=".5" width="89" height="15"/><text class="v" x="336" y="12">85%</text><text class="v" x="636" y="12">15%</text></g></g>

<g transform="translate(0,3032)"><text class="g" x="9" y="12">138</text><text class="r" x="77" y="12">R2023</text><rect class="a" x="81.5" y=".5" width="534" height="15"/><rect class="b" x="615.5" y=".5" width="65" height="15"/><text class="v" x="348" y="12">89%</text><text class="v" x="648" y="12">11%</text><g transform="translate(0,18)"><text class="r" x="77" y="12">R2024</text><text class="na" x="84" y="12">NaN</text></g></g>

<g transform="translate(0,3074)"><text class="g" x="9" y="12">139</text><text class="r" x="77" y="12">R2023</text><rect class="a" x="81.5" y=".5" width="504" height="15"/><rect class="b" x="585.5" y=".5" width="95" height="15"/><text class="v" x="333" y="12">84%</text><text class="v" x="633" y="12">16%</text><g transform="translate(0,18)"><text class="r" x="77" y="12">R2024</text><rect class="a" x="81.5" y=".5" width="516" height="15"/><rect class="b" x="597.5" y=".5" width="83" height="15"/><text class="v" x="339" y="12">86%</text><text class="v" x="639" y="12">14%</text></g></g>

<g transform="translate(0,3116)"><text class="g" x="9" y="12">140</text><text class="r" x="77" y="12">R2023</text><rect class="a" x="81.5" y=".5" width="510" height="15"/><rect class="b" x="591.5" y=".5" width="89" height="15"/><text class="v" x="336" y="12">85%</text><text class="v" x="636" y="12">15%</text><g transform="translate(0,18)"><text class="r" x="77" y="12">R2024</text><rect class="a" x="81.5" y=".5" width="510" height="15"/><rect class="b" x="591.5" y=".5" width="89" height="15"/><text class="v" x="336" y="12">85%</text><text class="v" x="636" y="12">15%</text></g></g>

<g transform="translate(0,3158)"><text class="g" x="9" y="12">141</text><text class="r" x="77" y="12">R2023</text><rect class="a" x="81.5" y=".5" width="486" height="15"/><rect class="b" x="567.5" y=".5" width="113" height="15"/><text class="v" x="324" y="12">81%</text><text class="v" x="624" y="12">19%</text><g transform="translate(0,18)"><text class="r" x="77" y="12">R2024</text><rect class="a" x="81.5" y=".5" width="474" height="15"/><rect class="b" x="555.5" y=".5" width="125" height="15"/><text class="v" x="318" y="12">79%</text><text class="v" x="618" y="12">21%</text></g></g>

<g transform="translate(0,3200)"><text class="g" x="9" y="12">144</text><text class="r" x="77" y="12">R2023</text><rect class="a" x="81.5" y=".5" width="468" height="15"/><rect class="b" x="549.5" y=".5" width="131" height="15"/><text class="v" x="315" y="12">78%</text><text class="v" x="615" y="12">22%</text><g transform="translate(0,18)"><text class="r" x="77" y="12">R2024</text><rect class="a" x="81.5" y=".5" width="474" height="15"/><rect class="b" x="555.5" y=".5" width="125" height="15"/><text class="v" x="318" y="12">79%</text><text class="v" x="618" y="12">21%</text></g></g>

<g transform="translate(0,3242)"><text class="g" x="9" y="12">145</text><text class="r" x="77" y="12">R2023</text><rect class="a" x="81.5" y=".5" width="522" height="15"/><rect class="b" x="603.5" y=".5" width="77" height="15"/><text class="v" x="342" y="12">87%</text><text class="v" x="642" y="12">13%</text><g transform="translate(0,18)"><text class="r" x="77" y="12">R2024</text><rect class="a" x="81.5" y=".5" width="546" height="15"/><rect class="b" x="627.5" y=".5" width="53" height="15"/><text class="v" x="354" y="12">91%</text><text class="v" x="654" y="12">9%</text></g></g>

<g transform="translate(0,3284)"><text class="g" x="9" y="12">146</text><text class="r" x="77" y="12">R2023</text><rect class="a" x="81.5" y=".5" width="558" height="15"/><rect class="b" x="639.5" y=".5" width="41" height="15"/><text class="v" x="360" y="12">93%</text><text class="v" x="660" y="12">7%</text><g transform="translate(0,18)"><text class="r" x="77" y="12">R2024</text><rect class="a" x="81.5" y=".5" width="552" height="15"/><rect class="b" x="633.5" y=".5" width="47" height="15"/><text class="v" x="357" y="12">92%</text><text class="v" x="657" y="12">8%</text></g></g>

<g transform="translate(0,3326)"><text class="g" x="9" y="12">147</text><text class="r" x="77" y="12">R2023</text><rect class="a" x="81.5" y=".5" width="510" height="15"/><rect class="b" x="591.5" y=".5" width="89" height="15"/><text class="v" x="336" y="12">85%</text><text class="v" x="636" y="12">15%</text><g transform="translate(0,18)"><text class="r" x="77" y="12">R2024</text><rect class="a" x="81.5" y=".5" width="504" height="15"/><rect class="b" x="585.5" y=".5" width="95" height="15"/><text class="v" x="333" y="12">84%</text><text class="v" x="633" y="12">16%</text></g></g>

<g transform="translate(0,3368)"><text class="g" x="9" y="12">151</text><text class="r" x="77" y="12">R2023</text><rect class="a" x="81.5" y=".5" width="510" height="15"/><rect class="b" x="591.5" y=".5" width="89" height="15"/><text class="v" x="336" y="12">85%</text><text class="v" x="636" y="12">15%</text><g transform="translate(0,18)"><text class="r" x="77" y="12">R2024</text><rect class="a" x="81.5" y=".5" width="498" height="15"/><rect class="b" x="579.5" y=".5" width="101" height="15"/><text class="v" x="330" y="12">83%</text><text class="v" x="630" y="12">17%</text></g></g>

<g transform="translate(0,3410)"><text class="g" x="9" y="12">152</text><text class="r" x="77" y="12">R2023</text><rect class="a" x="81.5" y=".5" width="570" height="15"/><rect class="b" x="651.5" y=".5" width="29" height="15"/><text class="v" x="366" y="12">95%</text><text class="v" x="666" y="12">5%</text><g transform="translate(0,18)"><text class="r" x="77" y="12">R2024</text><rect class="a" x="81.5" y=".5" width="576" height="15"/><rect class="b" x="657.5" y=".5" width="23" height="15"/><text class="v" x="369" y="12">96%</text><text class="v" x="669" y="12">4%</text></g></g>

<g transform="translate(0,3452)"><text class="g" x="9" y="12">153</text><text class="r" x="77" y="12">R2023</text><text class="na" x="84" y="12">NA</text><g transform="translate(0,18)"><text class="r" x="77" y="12">R2024</text><rect class="a" x="81.5" y=".5" width="570" height="15"/><rect class="b" x="651.5" y=".5" width="29" height="15"/><text class="v" x="366" y="12">95%</text><text class="v" x="666" y="12">5%</text></g></g>

<line x1="75" y1="91.5" x2="686" y2="91.5" stroke="#000" stroke-width="1"/>
<line x1="80.5" y1="87" x2="80.5" y2="3495" stroke="#000" stroke-width="1"/>

<rect x="45.5" y="3517.5" width="7" height="7" fill="#993366" stroke="#000"/>
<text class="lg" x="59" y="3525">A. Stálá aktiva</text>
<rect x="45.5" y="3537.5" width="7" height="7" fill="#FFFFCC" stroke="#000"/>
<text class="lg" x="59" y="3545">B. Oběžná aktiva</text>
<text class="f1" x="79" y="3570">Období[R2023]: Realita - 2023</text>
<text class="f2" x="379" y="3570">Období[R2024]: Realita - 2024</text>
</svg>
</body></html>
